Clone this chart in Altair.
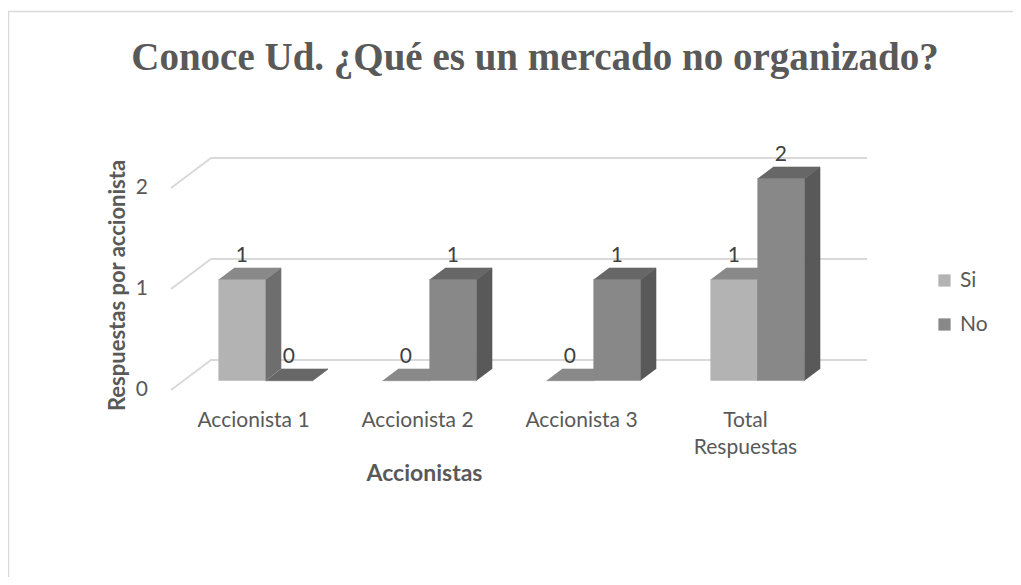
import json
import altair as alt
import pandas as pd

# ---------------- data ----------------
categories = ["Accionista 1", "Accionista 2", "Accionista 3", "Total Respuestas"]
series = ["Si", "No"]
si_values = [1, 0, 0, 1]
no_values = [0, 1, 1, 2]
y_ticks = [0, 1, 2]
chart_title = "Conoce Ud. ¿Qué es un mercado no organizado?"
x_title = "Accionistas"
y_title = "Respuestas por accionista"

# ---------------- styles ----------------
front_colors = ["#b3b3b3", "#888888"]
top_colors = ["#898989", "#676767"]
side_colors = ["#6e6e6e", "#595959"]
grid_color = "#d9d9d9"
text_color = "#595959"
FONT = "Lato"

# geometry: plot area and pseudo-3D depth (converted to data units)
W, H = 656, 202
n_cat = len(categories)
X_DOMAIN = [-0.5, n_cat - 0.5]
Y_DOMAIN = [0, 2]
PX_X = W / (X_DOMAIN[1] - X_DOMAIN[0])
PX_Y = H / (Y_DOMAIN[1] - Y_DOMAIN[0])
DX = 40 / PX_X
DY = 30 / PX_Y
ZF, ZB = 0.31, 0.70
BAR_W = 47 / PX_X

values = {"Si": si_values, "No": no_values}

front_rows, side_rows, top_rows, label_rows = [], [], [], []
for si, s in enumerate(series):
    for i, cat in enumerate(categories):
        v = values[s][i]
        xl = i - BAR_W if si == 0 else i
        xr = xl + BAR_W
        fid = f"{s}-{i}"
        front_rows.append(dict(series=s, x=xl + ZF * DX, x2=xr + ZF * DX,
                               y=ZF * DY, y2=v + ZF * DY))
        label_rows.append(dict(x=(xl + xr) / 2 + ZF * DX, y=v + ZF * DY, t=str(v)))
        # side face polygon (right side of the bar)
        side_pts = [(xr + ZF * DX, ZF * DY), (xr + ZF * DX, v + ZF * DY),
                    (xr + ZB * DX, v + ZB * DY), (xr + ZB * DX, ZB * DY)]
        # top face polygon
        top_pts = [(xl + ZF * DX, v + ZF * DY), (xr + ZF * DX, v + ZF * DY),
                   (xr + ZB * DX, v + ZB * DY), (xl + ZB * DX, v + ZB * DY)]
        for k, (px, py) in enumerate(side_pts):
            side_rows.append(dict(series=s, face=fid, k=k, x=px, y=py))
        for k, (px, py) in enumerate(top_pts):
            top_rows.append(dict(series=s, face=fid, k=k, x=px, y=py))

grid_rows = []
for v in y_ticks:
    grid_rows += [
        dict(g=v, k=0, x=X_DOMAIN[0], y=v),
        dict(g=v, k=1, x=X_DOMAIN[0] + DX, y=v + DY),
        dict(g=v, k=2, x=X_DOMAIN[1] + DX, y=v + DY),
    ]

front_df = pd.DataFrame(front_rows)
side_df = pd.DataFrame(side_rows)
top_df = pd.DataFrame(top_rows)
label_df = pd.DataFrame(label_rows)
grid_df = pd.DataFrame(grid_rows)
ytick_df = pd.DataFrame({"x": [X_DOMAIN[0]] * len(y_ticks), "y": y_ticks,
                         "t": [str(t) for t in y_ticks]})

label_lines = [c.split(" ") if len(c) > 13 else c for c in categories]
label_expr = f"{json.dumps(label_lines, ensure_ascii=False)}[round(datum.value)]"

xs = alt.Scale(domain=X_DOMAIN, nice=False, zero=False)
ys = alt.Scale(domain=Y_DOMAIN, nice=False, zero=False)

x_axis = alt.Axis(values=list(range(n_cat)), labelExpr=label_expr, domain=False, ticks=False,
                  grid=False, labelFont=FONT, labelFontSize=21, labelColor=text_color,
                  labelPadding=19, labelLineHeight=27, labelAngle=0, labelOverlap=False,
                  labelFlush=False,
                  title=x_title, titleFont=FONT, titleFontSize=23, titleFontWeight="bold",
                  titleColor=text_color, titleX=253, titleY=83, titleBaseline="middle",
                  titleAlign="center")
y_axis = alt.Axis(values=y_ticks, domain=False, ticks=False, grid=False, labels=False,
                  title=y_title, titleFont=FONT, titleFontSize=22, titleFontWeight="bold",
                  titleColor=text_color, titleX=-54, titleY=97, titleBaseline="middle",
                  titleAlign="center", titleAngle=270)


def X(field):
    return alt.X(field, scale=xs, axis=x_axis)


def Y(field):
    return alt.Y(field, scale=ys, axis=y_axis, stack=False)


border = alt.Chart(pd.DataFrame({"b": [0]})).mark_rect(
    fillOpacity=0, stroke=grid_color, strokeWidth=1.5
).encode(x=alt.value(-162.5), x2=alt.value(900), y=alt.value(-176.5), y2=alt.value(500))

grid = alt.Chart(grid_df).mark_line(color=grid_color, strokeWidth=2).encode(
    x=X("x:Q"), y=Y("y:Q"), detail="g:N", order="k:Q")

yticks = alt.Chart(ytick_df).mark_text(align="right", baseline="middle", dx=-23, font=FONT,
                                       fontSize=21, color=text_color).encode(
    x=X("x:Q"), y=Y("y:Q"), text="t:N")


def faces(df, colors):
    layers = []
    for s, c in zip(series, colors):
        layers.append(
            alt.Chart(df[df["series"] == s]).mark_line(
                fill=c, stroke=c, strokeWidth=0.6, strokeJoin="miter").encode(
                x=X("x:Q"), y=Y("y:Q"), detail="face:N", order="k:Q"))
    return layers


fronts = alt.Chart(front_df).mark_rect(opacity=1).encode(
    x=X("x:Q"), x2="x2:Q", y=Y("y:Q"), y2="y2:Q",
    color=alt.Color("series:N", scale=alt.Scale(domain=series, range=front_colors),
                    legend=alt.Legend(title=None, orient="none", legendX=763, legendY=82,
                                      padding=0, symbolType="square", symbolSize=150,
                                      symbolStrokeWidth=0, labelFont=FONT, labelFontSize=21,
                                      labelColor=text_color, rowPadding=22, labelOffset=5)))

labels = alt.Chart(label_df).mark_text(dy=-24, baseline="middle", font=FONT, fontSize=21,
                                       color="#404040").encode(
    x=X("x:Q"), y=Y("y:Q"), text="t:N")

chart = alt.layer(border, grid, yticks, *faces(side_df, side_colors),
                  *faces(top_df, top_colors), fronts, labels).properties(
    width=W, height=H,
    autosize=alt.AutoSizeParams(type="none"),
    padding={"left": 163, "top": 180, "right": 186, "bottom": 187},
    title=alt.TitleParams(chart_title, font="Liberation Serif", fontSize=39, fontWeight="bold",
                          color=text_color, anchor="middle", dx=36, offset=-98,
                          baseline="alphabetic"),
).configure_view(stroke=None)

chart.save("out.html", embed_options={"renderer": "svg", "actions": False})
